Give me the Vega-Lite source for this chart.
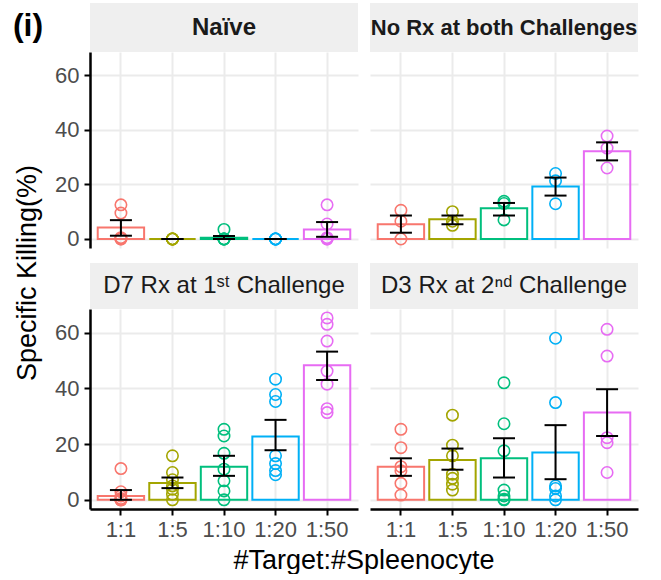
{
 "$schema": "https://vega.github.io/schema/vega-lite/v6.json",
 "padding": {"left": 12, "top": 3, "right": 5, "bottom": 0},
 "background": "white",
 "config": {
  "font": "Liberation Sans",
  "view": {"stroke": null},
  "axis": {"gridColor": "#EBEBEB", "gridWidth": 2, "domainColor": "#000000", "domainWidth": 2.5, "tickColor": "#000000", "tickWidth": 2, "tickSize": 6, "labelFontSize": 22, "labelColor": "#4D4D4D", "labelPadding": 5}
 },
 "datasets": {
  "b_naive": [
   {"ratio": "1:1", "mean": 4.2, "lo": 1.2, "hi": 6.9},
   {"ratio": "1:5", "mean": 0, "lo": 0, "hi": 0},
   {"ratio": "1:10", "mean": 0.5, "lo": 0, "hi": 1.1},
   {"ratio": "1:20", "mean": 0, "lo": 0, "hi": 0},
   {"ratio": "1:50", "mean": 3.5, "lo": 0.8, "hi": 6.2}
  ],
  "p_naive": [
   {"ratio": "1:1", "v": 12.5}, {"ratio": "1:1", "v": 9.5}, {"ratio": "1:1", "v": 0.5}, {"ratio": "1:1", "v": 0}, {"ratio": "1:1", "v": 0},
   {"ratio": "1:5", "v": 0}, {"ratio": "1:5", "v": 0}, {"ratio": "1:5", "v": 0}, {"ratio": "1:5", "v": 0}, {"ratio": "1:5", "v": 0},
   {"ratio": "1:10", "v": 3.5}, {"ratio": "1:10", "v": 0}, {"ratio": "1:10", "v": 0}, {"ratio": "1:10", "v": 0}, {"ratio": "1:10", "v": 0},
   {"ratio": "1:20", "v": 0}, {"ratio": "1:20", "v": 0}, {"ratio": "1:20", "v": 0}, {"ratio": "1:20", "v": 0}, {"ratio": "1:20", "v": 0},
   {"ratio": "1:50", "v": 12.5}, {"ratio": "1:50", "v": 5.5}, {"ratio": "1:50", "v": 0.5}, {"ratio": "1:50", "v": 0}, {"ratio": "1:50", "v": 0}
  ],
  "b_norx": [
   {"ratio": "1:1", "mean": 5.4, "lo": 2.3, "hi": 8.6},
   {"ratio": "1:5", "mean": 7.2, "lo": 5.4, "hi": 8.6},
   {"ratio": "1:10", "mean": 11.3, "lo": 8.6, "hi": 13.2},
   {"ratio": "1:20", "mean": 19.2, "lo": 15.9, "hi": 22.5},
   {"ratio": "1:50", "mean": 32.1, "lo": 28.8, "hi": 35.4}
  ],
  "p_norx": [
   {"ratio": "1:1", "v": 10.5}, {"ratio": "1:1", "v": 6.5}, {"ratio": "1:1", "v": 0},
   {"ratio": "1:5", "v": 10}, {"ratio": "1:5", "v": 6.5}, {"ratio": "1:5", "v": 5},
   {"ratio": "1:10", "v": 13.8}, {"ratio": "1:10", "v": 13}, {"ratio": "1:10", "v": 7},
   {"ratio": "1:20", "v": 24}, {"ratio": "1:20", "v": 21.3}, {"ratio": "1:20", "v": 12.9},
   {"ratio": "1:50", "v": 37.7}, {"ratio": "1:50", "v": 33.3}, {"ratio": "1:50", "v": 26}
  ],
  "b_d7": [
   {"ratio": "1:1", "mean": 1.4, "lo": 0, "hi": 3.5},
   {"ratio": "1:5", "mean": 6.0, "lo": 4.2, "hi": 8.0},
   {"ratio": "1:10", "mean": 11.9, "lo": 8.6, "hi": 15.8},
   {"ratio": "1:20", "mean": 22.7, "lo": 17.8, "hi": 28.7},
   {"ratio": "1:50", "mean": 48.3, "lo": 43.0, "hi": 53.2}
  ],
  "p_d7": [
   {"ratio": "1:1", "v": 11.2}, {"ratio": "1:1", "v": 2.9}, {"ratio": "1:1", "v": 1.4}, {"ratio": "1:1", "v": 0.5}, {"ratio": "1:1", "v": 0}, {"ratio": "1:1", "v": 0}, {"ratio": "1:1", "v": 0},
   {"ratio": "1:5", "v": 15.8}, {"ratio": "1:5", "v": 9.8}, {"ratio": "1:5", "v": 7.2}, {"ratio": "1:5", "v": 5}, {"ratio": "1:5", "v": 3.8}, {"ratio": "1:5", "v": 2}, {"ratio": "1:5", "v": 0},
   {"ratio": "1:10", "v": 25.3}, {"ratio": "1:10", "v": 22.9}, {"ratio": "1:10", "v": 16.7}, {"ratio": "1:10", "v": 11}, {"ratio": "1:10", "v": 6.8}, {"ratio": "1:10", "v": 3.2}, {"ratio": "1:10", "v": 0},
   {"ratio": "1:20", "v": 43.3}, {"ratio": "1:20", "v": 37.8}, {"ratio": "1:20", "v": 35.3}, {"ratio": "1:20", "v": 15.8}, {"ratio": "1:20", "v": 13}, {"ratio": "1:20", "v": 10.5}, {"ratio": "1:20", "v": 9},
   {"ratio": "1:50", "v": 65.3}, {"ratio": "1:50", "v": 63}, {"ratio": "1:50", "v": 57}, {"ratio": "1:50", "v": 46.2}, {"ratio": "1:50", "v": 41.5}, {"ratio": "1:50", "v": 32.7}, {"ratio": "1:50", "v": 31.3}
  ],
  "b_d3": [
   {"ratio": "1:1", "mean": 11.9, "lo": 8.6, "hi": 14.9},
   {"ratio": "1:5", "mean": 14.3, "lo": 10.8, "hi": 18.4},
   {"ratio": "1:10", "mean": 14.9, "lo": 8.0, "hi": 22.1},
   {"ratio": "1:20", "mean": 17.0, "lo": 7.4, "hi": 26.8},
   {"ratio": "1:50", "mean": 31.3, "lo": 22.9, "hi": 39.7}
  ],
  "p_d3": [
   {"ratio": "1:1", "v": 25.3}, {"ratio": "1:1", "v": 18.7}, {"ratio": "1:1", "v": 11.9}, {"ratio": "1:1", "v": 10.4}, {"ratio": "1:1", "v": 5.9}, {"ratio": "1:1", "v": 1.7},
   {"ratio": "1:5", "v": 30.4}, {"ratio": "1:5", "v": 19.6}, {"ratio": "1:5", "v": 15.8}, {"ratio": "1:5", "v": 9.2}, {"ratio": "1:5", "v": 7.7}, {"ratio": "1:5", "v": 5.6}, {"ratio": "1:5", "v": 3.5},
   {"ratio": "1:10", "v": 42}, {"ratio": "1:10", "v": 27.3}, {"ratio": "1:10", "v": 17.6}, {"ratio": "1:10", "v": 3.5}, {"ratio": "1:10", "v": 1.4}, {"ratio": "1:10", "v": 0.2}, {"ratio": "1:10", "v": 0},
   {"ratio": "1:20", "v": 58}, {"ratio": "1:20", "v": 34.9}, {"ratio": "1:20", "v": 5}, {"ratio": "1:20", "v": 4.1}, {"ratio": "1:20", "v": 1.4}, {"ratio": "1:20", "v": 0},
   {"ratio": "1:50", "v": 61.2}, {"ratio": "1:50", "v": 51.6}, {"ratio": "1:50", "v": 22.3}, {"ratio": "1:50", "v": 20.5}, {"ratio": "1:50", "v": 9.8}
  ]
 },
 "hconcat": [
  {"vconcat": [
    {"width": 30, "height": 46, "data": {"values": [{"t": "(i)"}]}, "mark": {"type": "text", "fontSize": 32, "fontWeight": "bold", "color": "#000000"}, "encoding": {"text": {"field": "t", "type": "nominal"}}},
    {"width": 30, "height": 448, "data": {"values": [{"t": "Specific Killing(%)"}]}, "mark": {"type": "text", "fontSize": 27, "angle": 270, "color": "#000000"}, "encoding": {"text": {"field": "t", "type": "nominal"}}}
   ], "spacing": 0},
  {"vconcat": [
    {"vconcat": [
      {"hconcat": [
        {"vconcat": [
          {"width": 268, "height": 49, "view": {"fill": "#EFEFEF"}, "data": {"values": [{"t": "Naïve"}]}, "mark": {"type": "text", "fontSize": 24, "fontWeight": "bold", "color": "#1A1A1A"}, "encoding": {"text": {"field": "t", "type": "nominal"}}},
          {"width": 268, "height": 196, "layer": [
            {"data": {"name": "b_naive"}, "mark": {"type": "bar", "filled": false, "strokeWidth": 2},
             "encoding": {"x": {"field": "ratio", "type": "nominal", "sort": ["1:1","1:5","1:10","1:20","1:50"], "title": null, "scale": {"paddingInner": 0.1, "paddingOuter": 0.15}, "axis": {"grid": true, "labels": false, "ticks": false, "domain": false}},
               "y": {"field": "mean", "type": "quantitative", "title": null, "scale": {"domain": [-3.3, 68.5], "nice": false, "zero": false}, "axis": {"values": [0, 20, 40, 60], "grid": true}},
               "y2": {"datum": 0},
               "color": {"field": "ratio", "type": "nominal", "scale": {"domain": ["1:1","1:5","1:10","1:20","1:50"], "range": ["#F8766D","#A3A500","#00BF7D","#00B0F6","#E76BF3"]}, "legend": null}}},
            {"data": {"name": "p_naive"}, "mark": {"type": "point", "shape": "circle", "filled": false, "size": 130, "strokeWidth": 1.6, "opacity": 1},
             "encoding": {"x": {"field": "ratio", "type": "nominal", "sort": ["1:1","1:5","1:10","1:20","1:50"], "title": null}, "y": {"field": "v", "type": "quantitative", "title": null}, "color": {"field": "ratio", "type": "nominal", "legend": null}}},
            {"data": {"name": "b_naive"}, "mark": {"type": "rule", "color": "#000000", "strokeWidth": 2},
             "encoding": {"x": {"field": "ratio", "type": "nominal", "sort": ["1:1","1:5","1:10","1:20","1:50"], "title": null}, "y": {"field": "lo", "type": "quantitative", "title": null}, "y2": {"field": "hi"}}},
            {"data": {"name": "b_naive"}, "mark": {"type": "tick", "color": "#000000", "thickness": 2, "size": 22, "opacity": 1},
             "encoding": {"x": {"field": "ratio", "type": "nominal", "sort": ["1:1","1:5","1:10","1:20","1:50"], "title": null}, "y": {"field": "lo", "type": "quantitative", "title": null}}},
            {"data": {"name": "b_naive"}, "mark": {"type": "tick", "color": "#000000", "thickness": 2, "size": 22, "opacity": 1},
             "encoding": {"x": {"field": "ratio", "type": "nominal", "sort": ["1:1","1:5","1:10","1:20","1:50"], "title": null}, "y": {"field": "hi", "type": "quantitative", "title": null}}}
          ]}
         ], "spacing": 0},
        {"vconcat": [
          {"width": 268, "height": 49, "view": {"fill": "#EFEFEF"}, "data": {"values": [{"t": "No Rx at both Challenges"}]}, "mark": {"type": "text", "fontSize": 22, "fontWeight": "bold", "color": "#1A1A1A"}, "encoding": {"text": {"field": "t", "type": "nominal"}}},
          {"width": 268, "height": 196, "layer": [
            {"data": {"name": "b_norx"}, "mark": {"type": "bar", "filled": false, "strokeWidth": 2},
             "encoding": {"x": {"field": "ratio", "type": "nominal", "sort": ["1:1","1:5","1:10","1:20","1:50"], "title": null, "scale": {"paddingInner": 0.1, "paddingOuter": 0.15}, "axis": {"grid": true, "labels": false, "ticks": false, "domain": false}},
               "y": {"field": "mean", "type": "quantitative", "title": null, "scale": {"domain": [-3.3, 68.5], "nice": false, "zero": false}, "axis": {"values": [0, 20, 40, 60], "grid": true, "labels": false, "ticks": false, "domain": false}},
               "y2": {"datum": 0},
               "color": {"field": "ratio", "type": "nominal", "scale": {"domain": ["1:1","1:5","1:10","1:20","1:50"], "range": ["#F8766D","#A3A500","#00BF7D","#00B0F6","#E76BF3"]}, "legend": null}}},
            {"data": {"name": "p_norx"}, "mark": {"type": "point", "shape": "circle", "filled": false, "size": 130, "strokeWidth": 1.6, "opacity": 1},
             "encoding": {"x": {"field": "ratio", "type": "nominal", "sort": ["1:1","1:5","1:10","1:20","1:50"], "title": null}, "y": {"field": "v", "type": "quantitative", "title": null}, "color": {"field": "ratio", "type": "nominal", "legend": null}}},
            {"data": {"name": "b_norx"}, "mark": {"type": "rule", "color": "#000000", "strokeWidth": 2},
             "encoding": {"x": {"field": "ratio", "type": "nominal", "sort": ["1:1","1:5","1:10","1:20","1:50"], "title": null}, "y": {"field": "lo", "type": "quantitative", "title": null}, "y2": {"field": "hi"}}},
            {"data": {"name": "b_norx"}, "mark": {"type": "tick", "color": "#000000", "thickness": 2, "size": 22, "opacity": 1},
             "encoding": {"x": {"field": "ratio", "type": "nominal", "sort": ["1:1","1:5","1:10","1:20","1:50"], "title": null}, "y": {"field": "lo", "type": "quantitative", "title": null}}},
            {"data": {"name": "b_norx"}, "mark": {"type": "tick", "color": "#000000", "thickness": 2, "size": 22, "opacity": 1},
             "encoding": {"x": {"field": "ratio", "type": "nominal", "sort": ["1:1","1:5","1:10","1:20","1:50"], "title": null}, "y": {"field": "hi", "type": "quantitative", "title": null}}}
          ]}
         ], "spacing": 0}
       ], "spacing": 12},
      {"hconcat": [
        {"vconcat": [
          {"width": 268, "height": 46, "view": {"fill": "#EFEFEF"}, "data": {"values": [{"t": "D7 Rx at 1ˢᵗ Challenge"}]}, "mark": {"type": "text", "fontSize": 24, "color": "#1A1A1A"}, "encoding": {"text": {"field": "t", "type": "nominal"}}},
          {"width": 268, "height": 200, "layer": [
            {"data": {"name": "b_d7"}, "mark": {"type": "bar", "filled": false, "strokeWidth": 2},
             "encoding": {"x": {"field": "ratio", "type": "nominal", "sort": ["1:1","1:5","1:10","1:20","1:50"], "title": null, "scale": {"paddingInner": 0.1, "paddingOuter": 0.15}, "axis": {"grid": true, "labelAngle": 0, "labelPadding": 4}},
               "y": {"field": "mean", "type": "quantitative", "title": null, "scale": {"domain": [-3.3, 68.5], "nice": false, "zero": false}, "axis": {"values": [0, 20, 40, 60], "grid": true}},
               "y2": {"datum": 0},
               "color": {"field": "ratio", "type": "nominal", "scale": {"domain": ["1:1","1:5","1:10","1:20","1:50"], "range": ["#F8766D","#A3A500","#00BF7D","#00B0F6","#E76BF3"]}, "legend": null}}},
            {"data": {"name": "p_d7"}, "mark": {"type": "point", "shape": "circle", "filled": false, "size": 130, "strokeWidth": 1.6, "opacity": 1},
             "encoding": {"x": {"field": "ratio", "type": "nominal", "sort": ["1:1","1:5","1:10","1:20","1:50"], "title": null}, "y": {"field": "v", "type": "quantitative", "title": null}, "color": {"field": "ratio", "type": "nominal", "legend": null}}},
            {"data": {"name": "b_d7"}, "mark": {"type": "rule", "color": "#000000", "strokeWidth": 2},
             "encoding": {"x": {"field": "ratio", "type": "nominal", "sort": ["1:1","1:5","1:10","1:20","1:50"], "title": null}, "y": {"field": "lo", "type": "quantitative", "title": null}, "y2": {"field": "hi"}}},
            {"data": {"name": "b_d7"}, "mark": {"type": "tick", "color": "#000000", "thickness": 2, "size": 22, "opacity": 1},
             "encoding": {"x": {"field": "ratio", "type": "nominal", "sort": ["1:1","1:5","1:10","1:20","1:50"], "title": null}, "y": {"field": "lo", "type": "quantitative", "title": null}}},
            {"data": {"name": "b_d7"}, "mark": {"type": "tick", "color": "#000000", "thickness": 2, "size": 22, "opacity": 1},
             "encoding": {"x": {"field": "ratio", "type": "nominal", "sort": ["1:1","1:5","1:10","1:20","1:50"], "title": null}, "y": {"field": "hi", "type": "quantitative", "title": null}}}
          ]}
         ], "spacing": 0},
        {"vconcat": [
          {"width": 268, "height": 46, "view": {"fill": "#EFEFEF"}, "data": {"values": [{"t": "D3 Rx at 2ⁿᵈ Challenge"}]}, "mark": {"type": "text", "fontSize": 24, "color": "#1A1A1A"}, "encoding": {"text": {"field": "t", "type": "nominal"}}},
          {"width": 268, "height": 200, "layer": [
            {"data": {"name": "b_d3"}, "mark": {"type": "bar", "filled": false, "strokeWidth": 2},
             "encoding": {"x": {"field": "ratio", "type": "nominal", "sort": ["1:1","1:5","1:10","1:20","1:50"], "title": null, "scale": {"paddingInner": 0.1, "paddingOuter": 0.15}, "axis": {"grid": true, "labelAngle": 0, "labelPadding": 4}},
               "y": {"field": "mean", "type": "quantitative", "title": null, "scale": {"domain": [-3.3, 68.5], "nice": false, "zero": false}, "axis": {"values": [0, 20, 40, 60], "grid": true, "labels": false, "ticks": false, "domain": false}},
               "y2": {"datum": 0},
               "color": {"field": "ratio", "type": "nominal", "scale": {"domain": ["1:1","1:5","1:10","1:20","1:50"], "range": ["#F8766D","#A3A500","#00BF7D","#00B0F6","#E76BF3"]}, "legend": null}}},
            {"data": {"name": "p_d3"}, "mark": {"type": "point", "shape": "circle", "filled": false, "size": 130, "strokeWidth": 1.6, "opacity": 1},
             "encoding": {"x": {"field": "ratio", "type": "nominal", "sort": ["1:1","1:5","1:10","1:20","1:50"], "title": null}, "y": {"field": "v", "type": "quantitative", "title": null}, "color": {"field": "ratio", "type": "nominal", "legend": null}}},
            {"data": {"name": "b_d3"}, "mark": {"type": "rule", "color": "#000000", "strokeWidth": 2},
             "encoding": {"x": {"field": "ratio", "type": "nominal", "sort": ["1:1","1:5","1:10","1:20","1:50"], "title": null}, "y": {"field": "lo", "type": "quantitative", "title": null}, "y2": {"field": "hi"}}},
            {"data": {"name": "b_d3"}, "mark": {"type": "tick", "color": "#000000", "thickness": 2, "size": 22, "opacity": 1},
             "encoding": {"x": {"field": "ratio", "type": "nominal", "sort": ["1:1","1:5","1:10","1:20","1:50"], "title": null}, "y": {"field": "lo", "type": "quantitative", "title": null}}},
            {"data": {"name": "b_d3"}, "mark": {"type": "tick", "color": "#000000", "thickness": 2, "size": 22, "opacity": 1},
             "encoding": {"x": {"field": "ratio", "type": "nominal", "sort": ["1:1","1:5","1:10","1:20","1:50"], "title": null}, "y": {"field": "hi", "type": "quantitative", "title": null}}}
          ]}
         ], "spacing": 0}
       ], "spacing": 12}
     ], "spacing": 13},
    {"width": 548, "height": 16, "data": {"values": [{"t": "#Target:#Spleenocyte"}]}, "mark": {"type": "text", "fontSize": 27, "color": "#000000"}, "encoding": {"text": {"field": "t", "type": "nominal"}}}
   ], "spacing": 7}
 ],
 "spacing": 10
}
